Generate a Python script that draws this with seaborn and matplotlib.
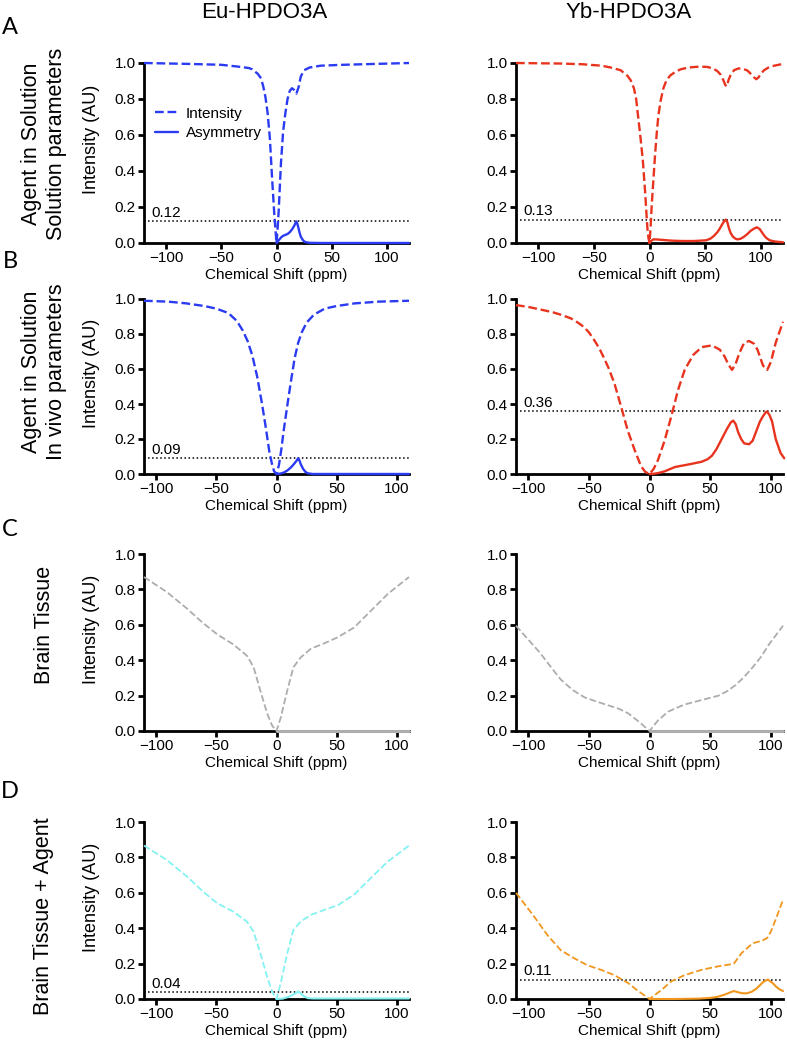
import matplotlib
matplotlib.use('Agg')
import matplotlib.pyplot as plt
from matplotlib.ticker import FormatStrFormatter
import seaborn as sns

# --- data ---
# A: agent in solution, solution parameters
eu_sol_x = [-120, -80, -50, -35, -25, -22, -20, -17, -14, -12, -10, -8, -6, -4, -2, -1, 0,
            1, 2, 4, 6, 8, 10, 12, 14, 16, 18, 20, 22, 25, 30, 40, 60, 90, 120]
eu_sol_int = [1.0, 0.995, 0.99, 0.98, 0.972, 0.965, 0.955, 0.94, 0.915, 0.87, 0.81, 0.72, 0.58, 0.36, 0.16, 0.08, 0.0,
              0.08, 0.18, 0.44, 0.62, 0.72, 0.8, 0.845, 0.86, 0.85, 0.83, 0.865, 0.925, 0.96, 0.975, 0.985, 0.99, 0.995, 1.0]
eu_sol_asym_x = [0, 2, 4, 6, 8, 10, 12, 14, 16, 17, 18, 19, 20, 21, 22, 24, 26, 30, 40, 120]
eu_sol_asym = [0.0, 0.015, 0.03, 0.04, 0.045, 0.05, 0.06, 0.075, 0.095, 0.108, 0.12, 0.105, 0.08, 0.055, 0.035,
               0.015, 0.005, 0.001, 0.0, 0.0]

yb_sol_x = [-120, -80, -60, -43, -35, -26, -20, -17, -14, -12, -10, -8, -6, -4, -2, -1, 0, 1, 2, 3.5, 5, 6.5, 8,
            10, 12.5, 15, 18.5, 23, 28, 35, 45, 52, 57, 61, 64, 66, 68, 69, 70, 71, 73, 76, 80, 84, 88, 91, 94,
            96, 98, 100, 103, 107, 112, 120]
yb_sol_int = [1.0, 0.997, 0.993, 0.985, 0.975, 0.96, 0.93, 0.905, 0.86, 0.8, 0.69, 0.58, 0.46, 0.29, 0.09, 0.03, 0.0,
              0.09, 0.21, 0.35, 0.49, 0.61, 0.71, 0.79, 0.86, 0.9, 0.93, 0.95, 0.965, 0.975, 0.98, 0.978, 0.97,
              0.955, 0.935, 0.91, 0.88, 0.87, 0.88, 0.905, 0.935, 0.96, 0.97, 0.968, 0.958, 0.94, 0.92, 0.91,
              0.92, 0.94, 0.96, 0.975, 0.985, 0.995]
yb_sol_asym_x = [0, 1, 3.5, 6, 10, 20, 30, 40, 51, 55, 58, 61, 63, 65, 67, 68.5, 70, 71.5, 73, 75, 77, 79, 82, 85,
                 88, 91, 94, 96.5, 99, 101, 103, 105, 108, 113, 120]
yb_sol_asym = [0.0, 0.01, 0.02, 0.02, 0.018, 0.013, 0.011, 0.011, 0.015, 0.025, 0.04, 0.06, 0.078, 0.1, 0.12, 0.13,
               0.115, 0.08, 0.055, 0.035, 0.025, 0.02, 0.024, 0.035, 0.05, 0.068, 0.08, 0.087, 0.078, 0.06, 0.042,
               0.028, 0.015, 0.008, 0.004]

# B: agent in solution, in vivo parameters
eu_viv_x = [-110, -90, -75, -60, -50, -40, -33, -28, -24, -20, -16, -12, -9, -6, -4, -2, 0,
            2, 4, 6, 8, 10, 12, 15, 18, 21, 25, 31, 40, 50, 65, 85, 110]
eu_viv_int = [0.99, 0.985, 0.975, 0.96, 0.945, 0.92, 0.875, 0.82, 0.76, 0.675, 0.555, 0.40, 0.27, 0.13, 0.065, 0.015,
              0.0, 0.05, 0.14, 0.25, 0.345, 0.44, 0.53, 0.66, 0.75, 0.81, 0.865, 0.91, 0.945, 0.96, 0.975, 0.985, 0.99]
eu_viv_asym_x = [0, 3, 6, 9, 12, 14, 16, 17, 18, 19, 20, 22, 24, 26, 30, 110]
eu_viv_asym = [0.0, 0.002, 0.008, 0.02, 0.038, 0.053, 0.07, 0.08, 0.09, 0.078, 0.058, 0.03, 0.012, 0.004, 0.0, 0.0]

yb_viv_x = [-110, -100, -90, -80, -73, -65, -59, -54, -50, -46, -41.5, -38, -34, -29, -23.4, -18, -12.4, -7, -3.5, 0,
            3.5, 7, 12.4, 18, 23.5, 29, 36, 43, 51.5, 58, 62, 65, 68, 71, 74, 78, 82, 86, 89, 93.5, 97, 100,
            104, 107, 110]
yb_viv_int = [0.965, 0.955, 0.94, 0.925, 0.91, 0.89, 0.865, 0.84, 0.81, 0.77, 0.72, 0.67, 0.61, 0.52, 0.385, 0.25,
              0.14, 0.045, 0.012, 0.0, 0.03, 0.08, 0.19, 0.33, 0.48, 0.595, 0.68, 0.725, 0.735, 0.71, 0.67, 0.625,
              0.595, 0.63, 0.69, 0.75, 0.76, 0.745, 0.71, 0.62, 0.595, 0.64, 0.75, 0.81, 0.87]
yb_viv_asym_x = [0, 3, 7, 12.4, 21, 32.5, 43, 48, 51.5, 55, 58, 61, 64, 67, 69, 71, 73, 75.5, 78, 82, 85, 88, 91,
                 93.5, 96, 97, 99, 101, 104, 108, 111]
yb_viv_asym = [0.0, 0.001, 0.005, 0.015, 0.04, 0.055, 0.07, 0.085, 0.105, 0.14, 0.18, 0.22, 0.26, 0.295, 0.305,
               0.285, 0.24, 0.2, 0.175, 0.17, 0.19, 0.245, 0.3, 0.33, 0.355, 0.356, 0.335, 0.3, 0.2, 0.12, 0.09]

# C: brain tissue
tis_eu_x = [-110, -91, -74, -61, -49, -36, -24.5, -19, -13.5, -7.8, -3.6, 0,
            3.5, 9, 14, 20, 28.5, 39.5, 51, 64.5, 78.5, 92.5, 110]
tis_eu_int = [0.87, 0.785, 0.69, 0.61, 0.545, 0.49, 0.425, 0.36, 0.23, 0.1, 0.03, 0.0,
              0.075, 0.23, 0.36, 0.415, 0.465, 0.495, 0.53, 0.585, 0.68, 0.775, 0.87]
tis_yb_x = [-110, -101, -90, -80, -73, -63, -53.5, -43, -34, -25, -17.6, -8.3, 0,
            7, 15.5, 29, 43, 57, 64, 71, 78, 85, 92, 98.5, 104, 110]
tis_yb_int = [0.595, 0.525, 0.44, 0.35, 0.29, 0.23, 0.19, 0.165, 0.145, 0.125, 0.10, 0.05, 0.0,
              0.06, 0.11, 0.15, 0.175, 0.2, 0.225, 0.26, 0.305, 0.36, 0.42, 0.49, 0.54, 0.595]
tis_asym_x = [0, 110]
tis_asym = [0.0, 0.0]

# D: brain tissue + agent
mix_eu_x = [-110, -91, -74, -61, -49, -36, -24.5, -19, -13.5, -7.8, -3.6, 0,
            3.5, 9, 14, 20, 28.5, 39.5, 51, 64.5, 78.5, 92.5, 110]
mix_eu_int = [0.867, 0.785, 0.69, 0.607, 0.54, 0.494, 0.437, 0.38, 0.26, 0.126, 0.04, 0.0,
              0.09, 0.26, 0.39, 0.437, 0.475, 0.503, 0.53, 0.59, 0.685, 0.777, 0.867]
mix_eu_asym_x = [0, 5, 10, 14, 17, 18, 20, 23, 26, 30, 110]
mix_eu_asym = [0.0, 0.002, 0.012, 0.025, 0.038, 0.042, 0.032, 0.014, 0.005, 0.003, 0.003]

mix_yb_x = [-110, -95, -84, -73, -62, -51, -40, -29, -17.6, -9.7, 0, 9.7, 18, 29, 43, 57, 66, 69.5, 76, 85,
            93, 97, 100, 104, 110]
mix_yb_int = [0.6, 0.465, 0.36, 0.275, 0.23, 0.19, 0.165, 0.135, 0.09, 0.047, 0.0, 0.05, 0.1, 0.135, 0.165, 0.185,
              0.195, 0.2, 0.26, 0.315, 0.33, 0.345, 0.38, 0.45, 0.56]
mix_yb_asym_x = [0, 20, 40, 50, 56, 62, 66, 69.5, 73, 76, 80, 84, 88, 91, 94, 97.5, 101.5, 104, 107, 110]
mix_yb_asym = [0.0, 0.0, 0.002, 0.006, 0.012, 0.025, 0.036, 0.045, 0.038, 0.033, 0.032, 0.04, 0.058, 0.078, 0.098,
               0.11, 0.09, 0.072, 0.055, 0.045]

thresholds = [0.12, 0.13, 0.09, 0.36, None, None, 0.04, 0.11]
col_titles = ['Eu-HPDO3A', 'Yb-HPDO3A']
row_labels = ['Agent in Solution\nSolution parameters', 'Agent in Solution\nIn vivo parameters',
              'Brain Tissue', 'Brain Tissue + Agent']
panel_letters = ['A', 'B', 'C', 'D']

blue, red, grey, cyan, orange = '#2B3BF2', '#E8341E', '#ADADAD', '#84F2F2', '#F0961E'

sns.set_theme(style='ticks')
plt.rcParams['font.family'] = ['Liberation Sans', 'DejaVu Sans']
plt.rcParams['text.color'] = 'black'
plt.rcParams['axes.labelcolor'] = 'black'

W, H = 787, 1046
fig = plt.figure(figsize=(W / 100, H / 100), dpi=100)

# panel boxes in pixels (left, right) and (top, bottom)
col_px = [(144, 409), (516, 783)]
row_px = [(63, 243), (299, 474), (554, 731), (822, 999)]

panels = [
    (eu_sol_x, eu_sol_int, eu_sol_asym_x, eu_sol_asym, blue, 120),
    (yb_sol_x, yb_sol_int, yb_sol_asym_x, yb_sol_asym, red, 120),
    (eu_viv_x, eu_viv_int, eu_viv_asym_x, eu_viv_asym, blue, 110),
    (yb_viv_x, yb_viv_int, yb_viv_asym_x, yb_viv_asym, red, 110),
    (tis_eu_x, tis_eu_int, tis_asym_x, tis_asym, grey, 110),
    (tis_yb_x, tis_yb_int, tis_asym_x, tis_asym, grey, 110),
    (mix_eu_x, mix_eu_int, mix_eu_asym_x, mix_eu_asym, cyan, 110),
    (mix_yb_x, mix_yb_int, mix_yb_asym_x, mix_yb_asym, orange, 110),
]
solid_lw = [1.7, 1.7, 2.2, 1.5]

fs = 11
for i, (x, y, ax_x, ax_y, color, xmax) in enumerate(panels):
    r, c = divmod(i, 2)
    x0, x1 = col_px[c]
    y0, y1 = row_px[r]
    ax = fig.add_axes([x0 / W, 1 - y1 / H, (x1 - x0) / W, (y1 - y0) / H])
    lw = 1.3 if r >= 2 else 1.7
    sns.lineplot(x=x, y=y, ax=ax, color=color, linestyle='--', linewidth=lw, sort=False,
                 estimator=None, label='Intensity', clip_on=False, zorder=4)
    sns.lineplot(x=ax_x, y=ax_y, ax=ax, color=color, linestyle='-', linewidth=solid_lw[r],
                 sort=False, estimator=None, label='Asymmetry', clip_on=False, zorder=5)
    thr = thresholds[i]
    if thr is not None:
        ax.axhline(thr, color='black', linestyle=':', linewidth=1.1, zorder=3)
        ax.annotate(f'{thr:.2f}', xy=(0, thr), xycoords=('axes fraction', 'data'),
                    xytext=(5, 3), textcoords='offset points', fontsize=fs, va='baseline')
    ax.set_xlim(-xmax, xmax)
    ax.set_ylim(0, 1)
    ax.set_xticks([-100, -50, 0, 50, 100])
    ax.set_yticks([0, 0.2, 0.4, 0.6, 0.8, 1.0])
    ax.yaxis.set_major_formatter(FormatStrFormatter('%.1f'))
    sns.despine(ax=ax)
    for s in ['left', 'bottom']:
        ax.spines[s].set_linewidth(2.0)
        ax.spines[s].set_color('black')
    ax.tick_params(direction='out', length=4, width=2, colors='black', labelsize=fs, pad=2)
    ax.set_xlabel('Chemical Shift (ppm)', fontsize=fs, labelpad=2)
    if c == 0:
        ax.set_ylabel('Intensity (AU)', fontsize=13)
        ax.yaxis.set_label_coords(-0.165, 0.575)
    else:
        ax.set_ylabel('')
    leg = ax.get_legend()
    if leg is not None:
        leg.remove()
    if i == 0:
        ax.legend(loc='center left', bbox_to_anchor=(0.04, 0.664), frameon=False, fontsize=fs,
                  borderaxespad=0, borderpad=0, handlelength=1.5, handletextpad=0.55, labelspacing=0.35)

# column titles
fig.text(264 / W, 1 - 13 / H, col_titles[0], fontsize=16, ha='center', va='center')
fig.text(629 / W, 1 - 13 / H, col_titles[1], fontsize=16, ha='center', va='center')

# row labels and panel letters
for lab, yc in zip(row_labels, [144, 372, 625, 916]):
    fig.text(44 / W, 1 - yc / H, lab, fontsize=15.5, rotation=90, ha='center', va='center', linespacing=1.2)
for let, yc in zip(panel_letters, [27, 262, 529, 791]):
    fig.text(10 / W, 1 - yc / H, let, fontsize=17, ha='center', va='center', family=['Lato', 'DejaVu Sans'])

fig.savefig('out.png', dpi=100)
